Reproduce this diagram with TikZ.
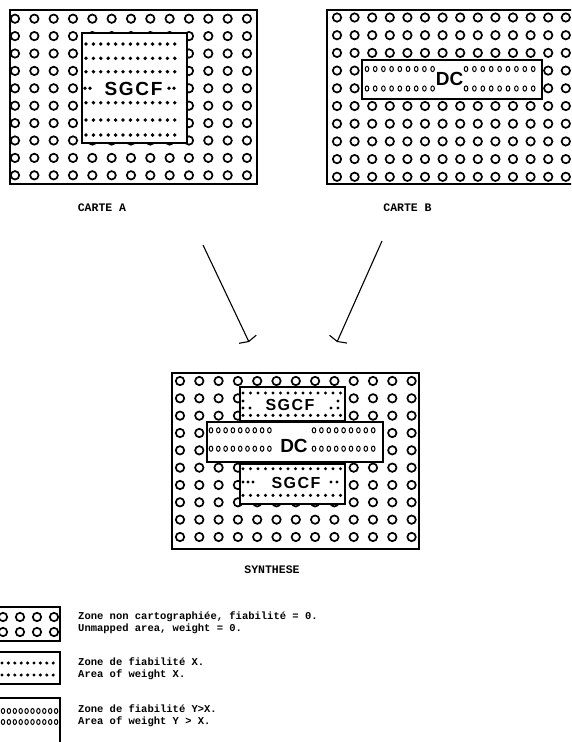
\documentclass[tikz,border=0pt]{standalone}
\usepackage{fontspec}
\newfontfamily\sgcffont{Liberation Sans}[LetterSpace=9]
\newfontfamily\dcfont{Liberation Sans}
\newfontfamily\typefont{Liberation Mono}
\usetikzlibrary{arrows.meta}

\begin{document}
\begin{tikzpicture}[
    x=1pt,
    y=-1pt,
    >={Straight Barb[length=2.5pt,width=19pt]},
    frame/.style={line width=1.7pt,draw=black},
    zone/.style={line width=1.7pt,draw=black,fill=white},
    hole/.style={line width=1.7pt,draw=black},
    speck/.style={fill=black},
    lozenge/.style={line width=1pt,draw=black},
    zonelabel/.style={inner sep=0pt,font=\sgcffont\bfseries\fontsize{19}{19}\selectfont},
    dclabel/.style={inner sep=0pt,font=\dcfont\bfseries\fontsize{19}{19}\selectfont},
    cardlabel/.style={inner sep=0pt,font=\typefont\bfseries\fontsize{11.5}{13}\selectfont},
    legendtext/.style={anchor=west,align=left,inner sep=0pt,font=\typefont\bfseries\fontsize{10.5}{12}\selectfont},
    link/.style={->,line width=1.1pt}
]

\useasboundingbox (0,0) rectangle (571,742);
\clip (0,0) rectangle (571,742);

% ---------------------------------------------------------
% Carte A
% ---------------------------------------------------------

\draw[frame] (10,10) rectangle (257,184);

\foreach \c in {0,...,12}
    \foreach \r in {0,...,9}
        \draw[hole] ({15+19.33*\c},{18.7+17.4*\r}) circle[radius=4.2pt];

\draw[zone] (82,33) rectangle (187,143);

\foreach \y in {44,58.3,71.7,102.7,120,135}
    \foreach \k in {0,...,12}
        \fill[speck] ({86+7.4*\k},\y) circle[radius=1.9pt];

\foreach \x in {85,90,169,174}
    \fill[speck] (\x,88.3) circle[radius=1.9pt];

\node[zonelabel,anchor=base] (sgcfA) at (133.5,95) {SGCF};

\node[cardlabel] (labA) at (102,208) {CARTE A};

% ---------------------------------------------------------
% Carte B
% ---------------------------------------------------------

\draw[frame] (327,10) rectangle (580,184);

\foreach \c in {0,...,13}
    \foreach \r in {0,...,9}
        \draw[hole] ({337+17.6*\c},{17.5+17.7*\r}) circle[radius=4.2pt];

\draw[zone] (362,60) rectangle (542,99);

\foreach \y in {69,88.5}
    \foreach \k in {0,...,8} {
        \draw[lozenge] ({367+8.2*\k},\y) ellipse[x radius=1.8pt,y radius=2.6pt];
        \draw[lozenge] ({466+8.4*\k},\y) ellipse[x radius=1.8pt,y radius=2.6pt];
    }

\node[dclabel,anchor=base] (dcB) at (449.5,85) {DC};

\node[cardlabel] (labB) at (407.5,208) {CARTE B};

% ---------------------------------------------------------
% Arrows towards the synthesis
% ---------------------------------------------------------

\coordinate (fromA) at (203,245);
\coordinate (intoA) at (249,342);
\coordinate (fromB) at (382,241);
\coordinate (intoB) at (337,342);

\draw[link] (fromA) -- (intoA);
\draw[link] (fromB) -- (intoB);

% ---------------------------------------------------------
% Synthese
% ---------------------------------------------------------

\draw[frame] (172,373) rectangle (419,549);

\foreach \c in {0,...,12}
    \foreach \r in {0,...,9}
        \draw[hole] ({180+19.3*\c},{381+17.33*\r}) circle[radius=4.2pt];

% upper SGCF zone
\draw[zone] (240,387) rectangle (345,420.5);

\foreach \y in {393,415.3}
    \foreach \k in {0,...,13}
        \fill[speck] ({243+7.5*\k},\y) circle[radius=1.7pt];

\foreach \p in {(243,401),(243,408),(250,408),(331,408),(338,401),(338,408)}
    \fill[speck] \p circle[radius=1.7pt];

\node[zonelabel,anchor=base,font=\sgcffont\bfseries\fontsize{16}{16}\selectfont]
    (sgcfS1) at (290,410.3) {SGCF};

% lower SGCF zone
\draw[zone] (240,463.7) rectangle (345,503.7);

\foreach \y in {468.7,495.3}
    \foreach \k in {0,...,13}
        \fill[speck] ({243+7.5*\k},\y) circle[radius=1.7pt];

\foreach \x in {243,248,253,331,337}
    \fill[speck] (\x,482) circle[radius=1.7pt];

\node[zonelabel,anchor=base,font=\sgcffont\bfseries\fontsize{16}{16}\selectfont]
    (sgcfS2) at (296,488.7) {SGCF};

% DC zone
\draw[zone] (207,422) rectangle (383,462);

\foreach \y in {430.3,448.7}
    \foreach \k in {0,...,8} {
        \draw[lozenge] ({211+7.3*\k},\y) ellipse[x radius=1.8pt,y radius=2.6pt];
        \draw[lozenge] ({314+7.4*\k},\y) ellipse[x radius=1.8pt,y radius=2.6pt];
    }

\node[dclabel,anchor=base] (dcS) at (294,452) {DC};

\node[cardlabel] (labS) at (272,570) {SYNTHESE};

% ---------------------------------------------------------
% Legend
% ---------------------------------------------------------

\draw[frame] (-3,607) rectangle (60,641);

\foreach \c in {0,...,3}
    \foreach \y in {617,632}
        \draw[hole] ({3+17*\c},\y) circle[radius=4.2pt];

\draw[frame] (-3,652) rectangle (60,684);

\foreach \y in {663,675}
    \foreach \k in {0,...,8}
        \fill[speck] ({2+6.4*\k},\y) circle[radius=1.7pt];

\draw[frame] (-3,698) rectangle (60,746);

\foreach \y in {711,722}
    \foreach \k in {0,...,9}
        \draw[lozenge] ({3+5.9*\k},\y) ellipse[x radius=1.7pt,y radius=2.5pt];

\node[legendtext] (keyvoid) at (78,623)
    {Zone non cartographiée, fiabilité = 0.\\Unmapped area, weight = 0.};

\node[legendtext] (keyX) at (78,669)
    {Zone de fiabilité X.\\Area of weight X.};

\node[legendtext] (keyY) at (78,716)
    {Zone de fiabilité Y{\dcfont\bfseries >}X.\\Area of weight Y {\dcfont\bfseries >} X.};

\end{tikzpicture}
\end{document}
